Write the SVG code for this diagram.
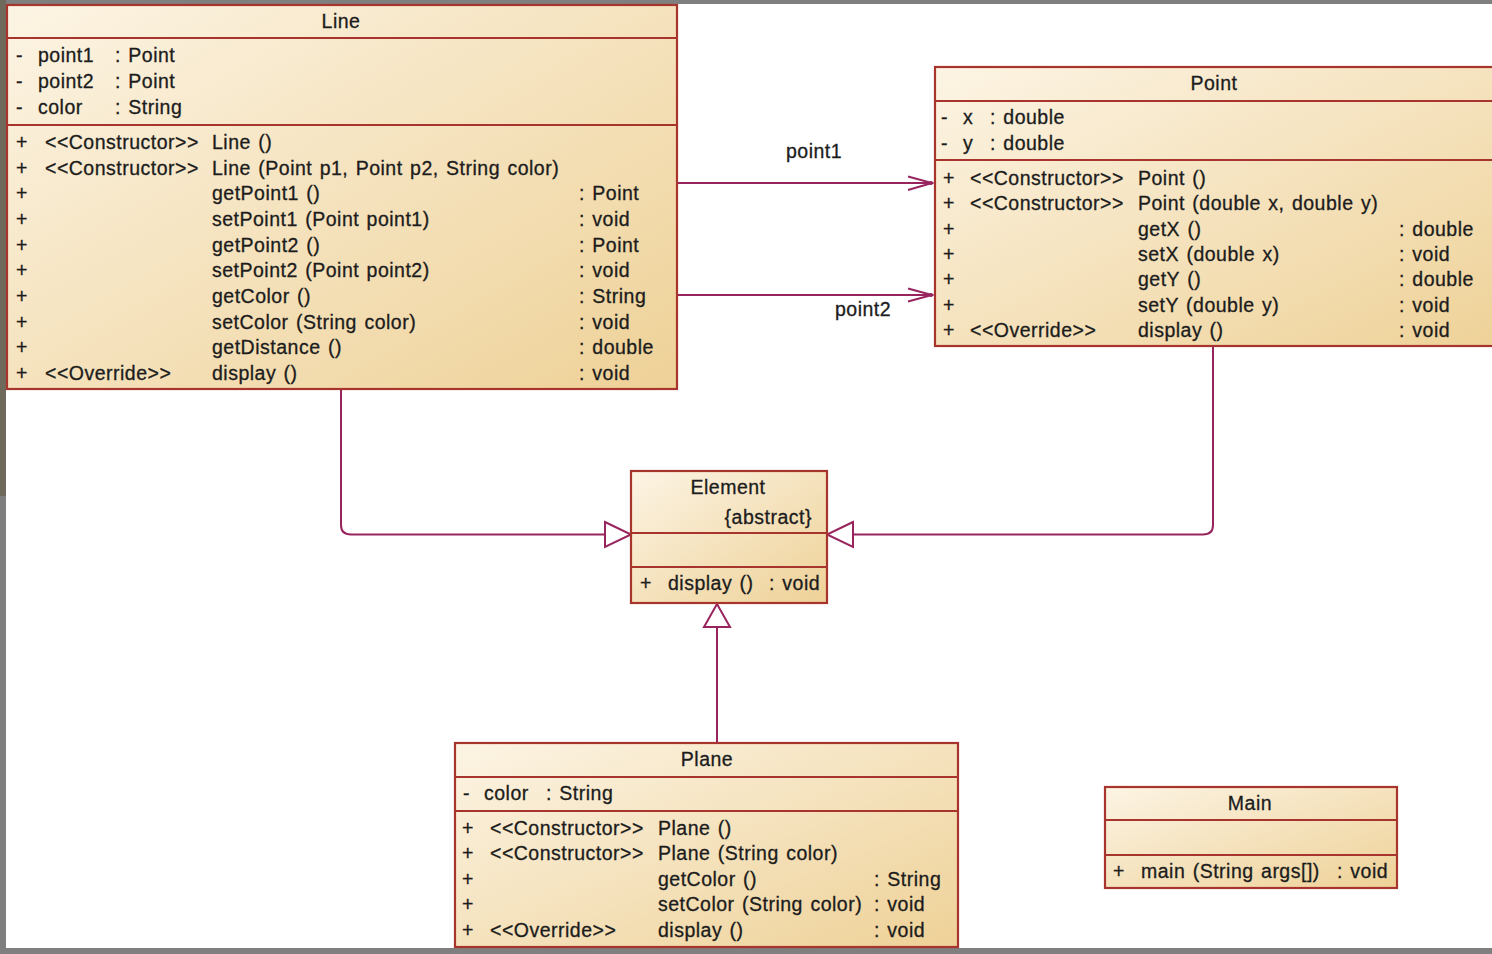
<svg xmlns="http://www.w3.org/2000/svg" width="1492" height="954" viewBox="0 0 1492 954">
<defs>
<linearGradient id="fill" x1="0" y1="0" x2="1" y2="1">
<stop offset="0" stop-color="#fcf4e4"/>
<stop offset="1" stop-color="#eed197"/>
</linearGradient>
<style>
.box{fill:url(#fill);stroke:#a8342e;stroke-width:2.2}
.sep{stroke:#a8342e;stroke-width:2.2;fill:none}
text{font-family:"Liberation Sans",Arial,sans-serif;font-size:19.5px;letter-spacing:0.5px;word-spacing:1.5px;fill:#1c1c1c;stroke:#1c1c1c;stroke-width:0.3}
.c{text-anchor:middle}
.e{text-anchor:end}
.con{stroke:#98245e;stroke-width:2;fill:none}
.tri{stroke:#98245e;stroke-width:2;fill:#fff}
</style>
</defs>
<rect x="0" y="0" width="1492" height="954" fill="#fff"/>
<rect x="0" y="0" width="1492" height="4" fill="#7f7f7f"/>
<rect x="0" y="0" width="6" height="496" fill="#6f695c"/>
<rect x="0" y="496" width="6" height="458" fill="#7f7f7f"/>
<rect x="0" y="948" width="1492" height="6" fill="#7f7f7f"/>

<g id="connectors">
<path class="con" d="M677 183 H932"/>
<polyline class="con" points="908,176.5 932,183 908,190"/>
<circle cx="931" cy="183" r="2" fill="#98245e"/>
<text x="786" y="158">point1</text>
<path class="con" d="M677 295 H932"/>
<polyline class="con" points="908,288.5 932,295 908,301.5"/>
<circle cx="931" cy="295" r="2" fill="#98245e"/>
<text x="835" y="316">point2</text>
<path class="con" d="M341 390 V525 Q341 534.5 351 534.5 H605"/>
<polygon class="tri" points="605,522 631,534.5 605,547"/>
<path class="con" d="M1213 347 V525 Q1213 534.5 1203 534.5 H853"/>
<polygon class="tri" points="853,522 827,534.5 853,547"/>
<path class="con" d="M717 743 V627"/>
<polygon class="tri" points="704,627 717,604 730,627"/>
</g>

<g id="Line">
<rect class="box" x="7" y="5" width="670" height="384"/>
<path class="sep" d="M7 38 H677 M7 125 H677"/>
<text class="c" x="341" y="28">Line</text>
<text x="16" y="62">-</text><text x="38" y="62">point1</text><text x="115" y="62">: Point</text>
<text x="16" y="88">-</text><text x="38" y="88">point2</text><text x="115" y="88">: Point</text>
<text x="16" y="114">-</text><text x="38" y="114">color</text><text x="115" y="114">: String</text>
<text x="16" y="149">+</text><text x="45" y="149">&lt;&lt;Constructor&gt;&gt;</text><text x="212" y="149">Line ()</text>
<text x="16" y="175">+</text><text x="45" y="175">&lt;&lt;Constructor&gt;&gt;</text><text x="212" y="175">Line (Point p1, Point p2, String color)</text>
<text x="16" y="200">+</text><text x="212" y="200">getPoint1 ()</text><text x="579" y="200">: Point</text>
<text x="16" y="226">+</text><text x="212" y="226">setPoint1 (Point point1)</text><text x="579" y="226">: void</text>
<text x="16" y="252">+</text><text x="212" y="252">getPoint2 ()</text><text x="579" y="252">: Point</text>
<text x="16" y="277">+</text><text x="212" y="277">setPoint2 (Point point2)</text><text x="579" y="277">: void</text>
<text x="16" y="303">+</text><text x="212" y="303">getColor ()</text><text x="579" y="303">: String</text>
<text x="16" y="329">+</text><text x="212" y="329">setColor (String color)</text><text x="579" y="329">: void</text>
<text x="16" y="354">+</text><text x="212" y="354">getDistance ()</text><text x="579" y="354">: double</text>
<text x="16" y="380">+</text><text x="45" y="380">&lt;&lt;Override&gt;&gt;</text><text x="212" y="380">display ()</text><text x="579" y="380">: void</text>
</g>

<g id="Point">
<rect class="box" x="935" y="67" width="580" height="279"/>
<path class="sep" d="M935 101 H1515 M935 160 H1515"/>
<text class="c" x="1214" y="90">Point</text>
<text x="941" y="124">-</text><text x="963" y="124">x</text><text x="990" y="124">: double</text>
<text x="941" y="150">-</text><text x="963" y="150">y</text><text x="990" y="150">: double</text>
<text x="943" y="185">+</text><text x="970" y="185">&lt;&lt;Constructor&gt;&gt;</text><text x="1138" y="185">Point ()</text>
<text x="943" y="210">+</text><text x="970" y="210">&lt;&lt;Constructor&gt;&gt;</text><text x="1138" y="210">Point (double x, double y)</text>
<text x="943" y="236">+</text><text x="1138" y="236">getX ()</text><text x="1399" y="236">: double</text>
<text x="943" y="261">+</text><text x="1138" y="261">setX (double x)</text><text x="1399" y="261">: void</text>
<text x="943" y="286">+</text><text x="1138" y="286">getY ()</text><text x="1399" y="286">: double</text>
<text x="943" y="312">+</text><text x="1138" y="312">setY (double y)</text><text x="1399" y="312">: void</text>
<text x="943" y="337">+</text><text x="970" y="337">&lt;&lt;Override&gt;&gt;</text><text x="1138" y="337">display ()</text><text x="1399" y="337">: void</text>
</g>

<g id="Element">
<rect class="box" x="631" y="471" width="196" height="132"/>
<path class="sep" d="M631 533 H827 M631 567 H827"/>
<text class="c" x="728" y="494">Element</text>
<text class="e" x="812" y="524">{abstract}</text>
<text x="640" y="590">+</text><text x="668" y="590">display ()</text><text x="769" y="590">: void</text>
</g>

<g id="Plane">
<rect class="box" x="455" y="743" width="503" height="204"/>
<path class="sep" d="M455 777 H958 M455 811 H958"/>
<text class="c" x="707" y="766">Plane</text>
<text x="463" y="800">-</text><text x="484" y="800">color</text><text x="546" y="800">: String</text>
<text x="462" y="835">+</text><text x="490" y="835">&lt;&lt;Constructor&gt;&gt;</text><text x="658" y="835">Plane ()</text>
<text x="462" y="860">+</text><text x="490" y="860">&lt;&lt;Constructor&gt;&gt;</text><text x="658" y="860">Plane (String color)</text>
<text x="462" y="886">+</text><text x="658" y="886">getColor ()</text><text x="874" y="886">: String</text>
<text x="462" y="911">+</text><text x="658" y="911">setColor (String color)</text><text x="874" y="911">: void</text>
<text x="462" y="937">+</text><text x="490" y="937">&lt;&lt;Override&gt;&gt;</text><text x="658" y="937">display ()</text><text x="874" y="937">: void</text>
</g>

<g id="Main">
<rect class="box" x="1105" y="787" width="292" height="101"/>
<path class="sep" d="M1105 820 H1397 M1105 855 H1397"/>
<text class="c" x="1250" y="810">Main</text>
<text x="1113" y="878">+</text><text x="1141" y="878">main (String args[])</text><text x="1337" y="878">: void</text>
</g>
</svg>
